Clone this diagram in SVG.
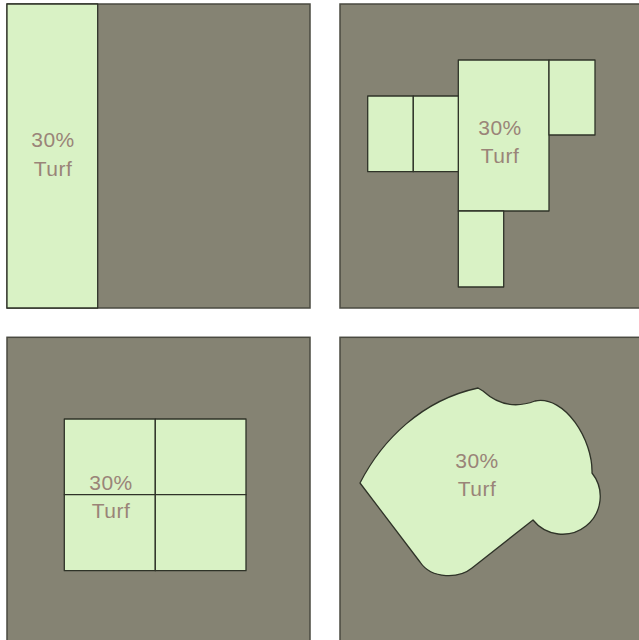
<svg xmlns="http://www.w3.org/2000/svg" width="639" height="640" viewBox="0 0 639 640">
<style>
.bg{fill:#858373;stroke:#4a4a40;stroke-width:1.5}
.turf{fill:#d9f2c5;stroke:#2f3328;stroke-width:1.3;stroke-linejoin:round}
.lbl{font-family:"Liberation Sans",Arial,sans-serif;font-size:21px;letter-spacing:0.5px;fill:#9a8478;text-anchor:middle}
</style>
<rect width="639" height="640" fill="#ffffff"/>
<g id="panel1">
<rect class="bg" x="7" y="4" width="303" height="304"/>
<rect class="turf" x="7" y="4" width="90.7" height="304"/>
<text class="lbl" x="53" y="147">30%</text>
<text class="lbl" x="53" y="176">Turf</text>
</g>
<g id="panel2">
<rect class="bg" x="340" y="4" width="305" height="304"/>
<rect class="turf" x="458.3" y="60" width="90.7" height="151"/>
<rect class="turf" x="549" y="60" width="46" height="75"/>
<rect class="turf" x="367.7" y="96" width="45.6" height="75.7"/>
<rect class="turf" x="413.3" y="96" width="45" height="75.7"/>
<rect class="turf" x="458.3" y="211" width="45.4" height="76"/>
<text class="lbl" x="500" y="135">30%</text>
<text class="lbl" x="500" y="163">Turf</text>
</g>
<g id="panel3">
<rect class="bg" x="7" y="337.3" width="303" height="310"/>
<rect class="turf" x="64.3" y="419" width="91" height="75.7"/>
<rect class="turf" x="155.3" y="419" width="90.7" height="75.7"/>
<rect class="turf" x="64.3" y="494.7" width="91" height="76"/>
<rect class="turf" x="155.3" y="494.7" width="90.7" height="76"/>
<text class="lbl" x="111" y="490">30%</text>
<text class="lbl" x="111" y="518">Turf</text>
</g>
<g id="panel4">
<rect class="bg" x="340" y="337.3" width="305" height="310"/>
<path class="turf" d="M 360 483 C 382 440, 422 400, 478 388 L 483 391 Q 506 412 535 401 C 565 395, 593 440, 592 473 A 37 37 0 1 1 533 520 L 471.7 568.3 C 460 578, 432 580, 420 562 Z"/>
<text class="lbl" x="477" y="468">30%</text>
<text class="lbl" x="477" y="496">Turf</text>
</g>
</svg>
